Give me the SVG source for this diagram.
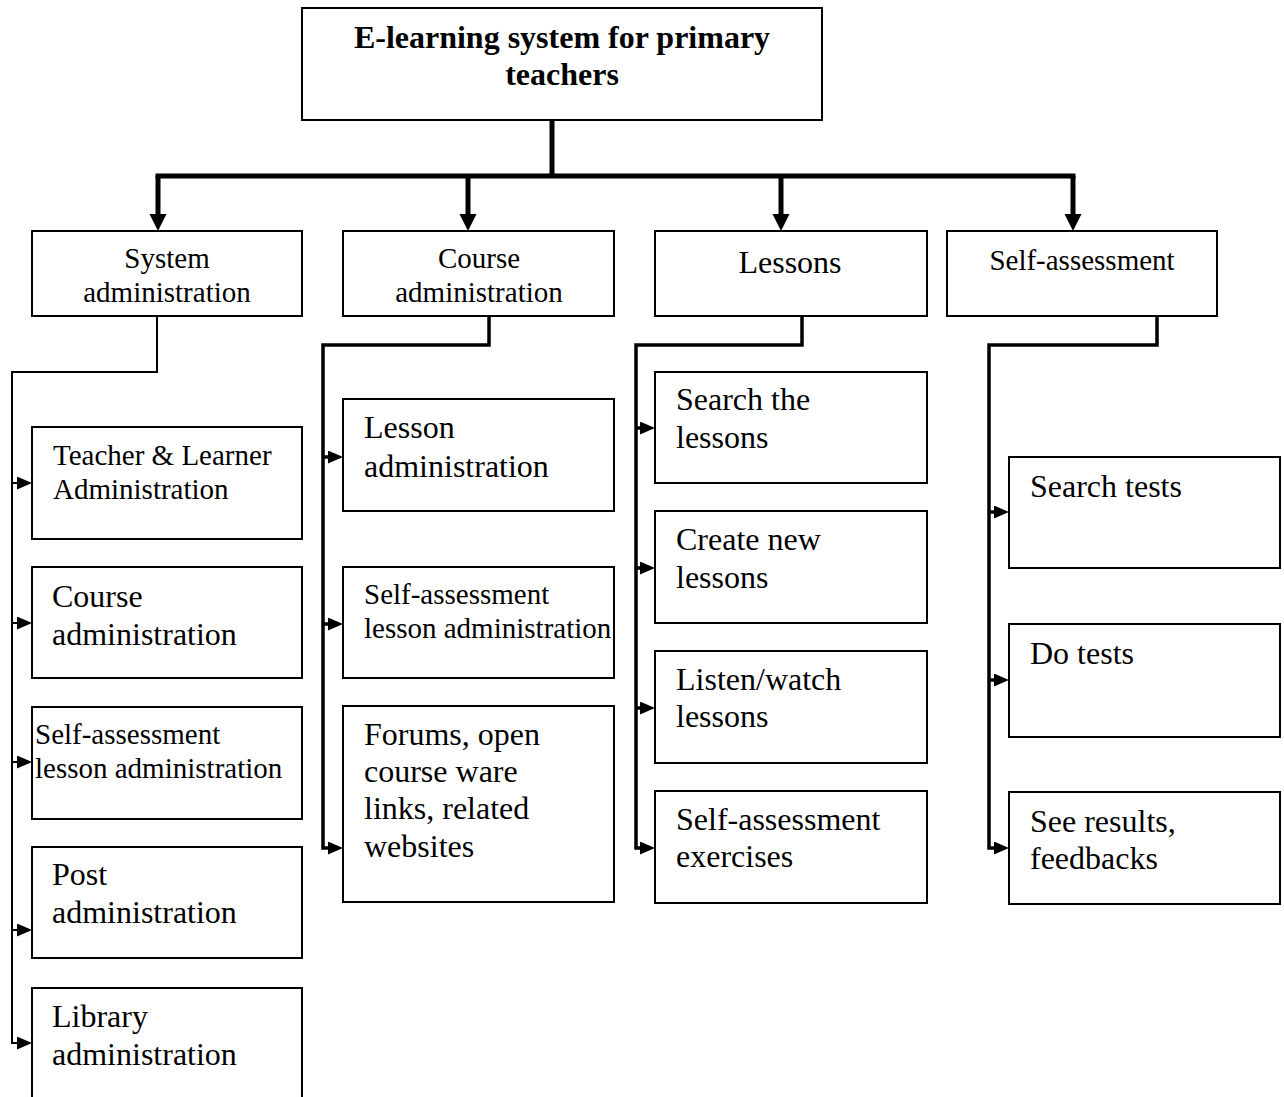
<svg xmlns="http://www.w3.org/2000/svg" width="1284" height="1097" viewBox="0 0 1284 1097">
<style>
  .box { fill: #fff; stroke: #000; stroke-width: 2; }
  text { font-family: "Liberation Serif", "Times New Roman", serif; fill: #000; }
  .title { font-size: 32px; font-weight: bold; text-anchor: middle; }
  .sm { font-size: 29px; }
  .lg { font-size: 32px; }
  .mid { text-anchor: middle; }
  .c0 { fill: none; stroke: #000; stroke-width: 5; }
  .c1 { fill: none; stroke: #000; stroke-width: 2; }
  .c2 { fill: none; stroke: #000; stroke-width: 3.5; }
</style>
<defs>
  <marker id="bigArrow" markerUnits="userSpaceOnUse" markerWidth="18" markerHeight="18" viewBox="0 0 18 18" refX="0" refY="8.5" orient="auto">
    <path d="M0,0 L17,8.5 L0,17 z" fill="#000"/>
  </marker>
  <marker id="smallArrow" markerUnits="userSpaceOnUse" markerWidth="16" markerHeight="14" viewBox="0 0 16 14" refX="0" refY="6.5" orient="auto">
    <path d="M0,0 L15,6.5 L0,13 z" fill="#000"/>
  </marker>
</defs>
<rect width="1284" height="1097" fill="#fff"/>

<g id="connectors">
  <!-- top level -->
  <path class="c0" d="M552,120 V176"/>
  <path class="c0" d="M155.5,176 H1075.5"/>
  <path class="c0" d="M158,176 V214" marker-end="url(#bigArrow)"/>
  <path class="c0" d="M468,176 V214" marker-end="url(#bigArrow)"/>
  <path class="c0" d="M781,176 V214" marker-end="url(#bigArrow)"/>
  <path class="c0" d="M1073,176 V214" marker-end="url(#bigArrow)"/>
  <!-- column 1 -->
  <path class="c1" d="M157,316 V372 H12 V1043 H17" marker-end="url(#smallArrow)"/>
  <path class="c1" d="M12,483 H17" marker-end="url(#smallArrow)"/>
  <path class="c1" d="M12,623 H17" marker-end="url(#smallArrow)"/>
  <path class="c1" d="M12,762 H17" marker-end="url(#smallArrow)"/>
  <path class="c1" d="M12,930 H17" marker-end="url(#smallArrow)"/>
  <!-- column 2 -->
  <path class="c2" d="M489,316 V345 H323 V848 H328" marker-end="url(#smallArrow)"/>
  <path class="c2" d="M323,457 H328" marker-end="url(#smallArrow)"/>
  <path class="c2" d="M323,624 H328" marker-end="url(#smallArrow)"/>
  <!-- column 3 -->
  <path class="c2" d="M802,316 V345 H636 V848 H640" marker-end="url(#smallArrow)"/>
  <path class="c2" d="M636,428 H640" marker-end="url(#smallArrow)"/>
  <path class="c2" d="M636,568 H640" marker-end="url(#smallArrow)"/>
  <path class="c2" d="M636,708 H640" marker-end="url(#smallArrow)"/>
  <!-- column 4 -->
  <path class="c2" d="M1157,316 V345 H989 V848 H994" marker-end="url(#smallArrow)"/>
  <path class="c2" d="M989,512 H994" marker-end="url(#smallArrow)"/>
  <path class="c2" d="M989,680 H994" marker-end="url(#smallArrow)"/>
</g>

<g id="root">
  <rect class="box" x="302" y="8" width="520" height="112"/>
  <text class="title" x="562" y="48">E-learning system for primary</text>
  <text class="title" x="562" y="85">teachers</text>
</g>

<g id="system-administration">
  <rect class="box" x="32" y="231" width="270" height="85"/>
  <text class="sm mid" x="167" y="268">System</text>
  <text class="sm mid" x="167" y="302">administration</text>
</g>
<g id="course-administration">
  <rect class="box" x="343" y="231" width="271" height="85"/>
  <text class="sm mid" x="479" y="268">Course</text>
  <text class="sm mid" x="479" y="302">administration</text>
</g>
<g id="lessons">
  <rect class="box" x="655" y="231" width="272" height="85"/>
  <text class="lg mid" x="790" y="273">Lessons</text>
</g>
<g id="self-assessment">
  <rect class="box" x="947" y="231" width="270" height="85"/>
  <text class="sm mid" x="1082" y="270">Self-assessment</text>
</g>

<!-- column 1 -->
<g id="teacher-learner-administration">
  <rect class="box" x="32" y="427" width="270" height="112"/>
  <text class="sm" x="53" y="465">Teacher &amp; Learner</text>
  <text class="sm" x="53" y="499">Administration</text>
</g>
<g id="course-administration-2">
  <rect class="box" x="32" y="567" width="270" height="111"/>
  <text class="lg" x="52" y="607">Course</text>
  <text class="lg" x="52" y="645">administration</text>
</g>
<g id="self-assessment-lesson-administration-1">
  <rect class="box" x="32" y="707" width="270" height="112"/>
  <text class="sm" x="35" y="744">Self-assessment</text>
  <text class="sm" x="35" y="778">lesson administration</text>
</g>
<g id="post-administration">
  <rect class="box" x="32" y="847" width="270" height="111"/>
  <text class="lg" x="52" y="885">Post</text>
  <text class="lg" x="52" y="923">administration</text>
</g>
<g id="library-administration">
  <rect class="box" x="32" y="988" width="270" height="120"/>
  <text class="lg" x="52" y="1027">Library</text>
  <text class="lg" x="52" y="1065">administration</text>
</g>

<!-- column 2 -->
<g id="lesson-administration">
  <rect class="box" x="343" y="399" width="271" height="112"/>
  <text class="lg" x="364" y="438">Lesson</text>
  <text class="lg" x="364" y="477">administration</text>
</g>
<g id="self-assessment-lesson-administration-2">
  <rect class="box" x="343" y="567" width="271" height="111"/>
  <text class="sm" x="364" y="604">Self-assessment</text>
  <text class="sm" x="364" y="638">lesson administration</text>
</g>
<g id="forums">
  <rect class="box" x="343" y="706" width="271" height="196"/>
  <text class="lg" x="364" y="745">Forums, open</text>
  <text class="lg" x="364" y="782">course ware</text>
  <text class="lg" x="364" y="819">links, related</text>
  <text class="lg" x="364" y="857">websites</text>
</g>

<!-- column 3 -->
<g id="search-the-lessons">
  <rect class="box" x="655" y="372" width="272" height="111"/>
  <text class="lg" x="676" y="410">Search the</text>
  <text class="lg" x="676" y="448">lessons</text>
</g>
<g id="create-new-lessons">
  <rect class="box" x="655" y="511" width="272" height="112"/>
  <text class="lg" x="676" y="550">Create new</text>
  <text class="lg" x="676" y="588">lessons</text>
</g>
<g id="listen-watch-lessons">
  <rect class="box" x="655" y="651" width="272" height="112"/>
  <text class="lg" x="676" y="690">Listen/watch</text>
  <text class="lg" x="676" y="727">lessons</text>
</g>
<g id="self-assessment-exercises">
  <rect class="box" x="655" y="791" width="272" height="112"/>
  <text class="lg" x="676" y="830">Self-assessment</text>
  <text class="lg" x="676" y="867">exercises</text>
</g>

<!-- column 4 -->
<g id="search-tests">
  <rect class="box" x="1009" y="457" width="271" height="111"/>
  <text class="lg" x="1030" y="497">Search tests</text>
</g>
<g id="do-tests">
  <rect class="box" x="1009" y="624" width="271" height="113"/>
  <text class="lg" x="1030" y="664">Do tests</text>
</g>
<g id="see-results">
  <rect class="box" x="1009" y="792" width="271" height="112"/>
  <text class="lg" x="1030" y="832">See results,</text>
  <text class="lg" x="1030" y="869">feedbacks</text>
</g>
</svg>
